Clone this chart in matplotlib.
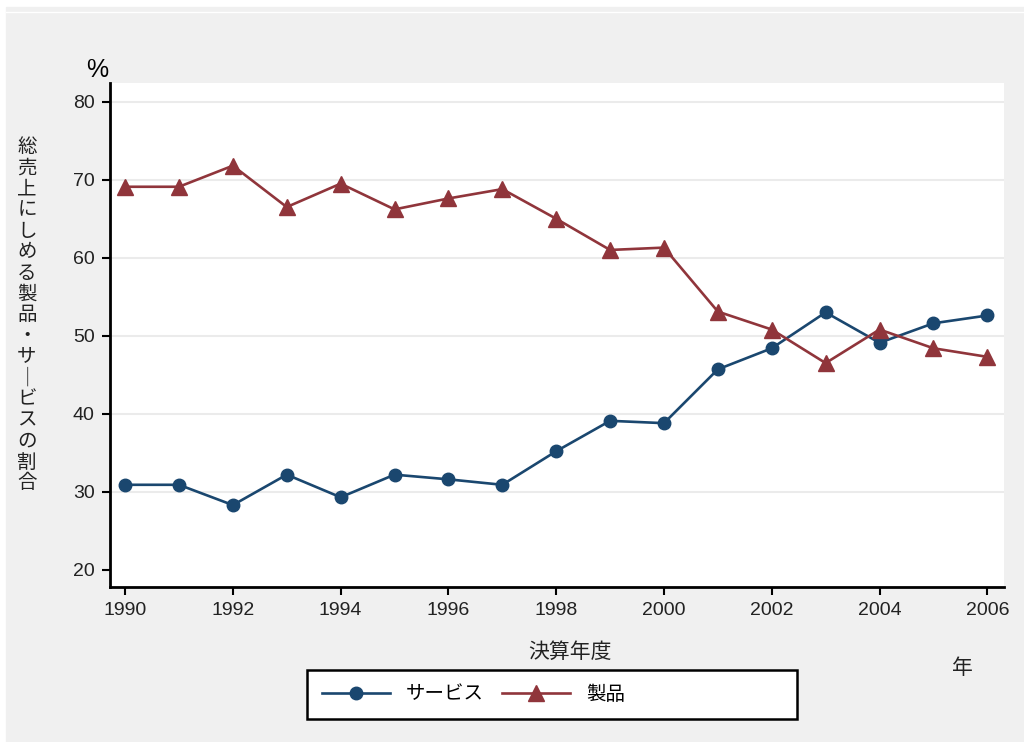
import matplotlib
matplotlib.use("Agg")
from matplotlib import pyplot as plt

plt.rcParams["font.family"] = ["Liberation Sans", "Noto Sans CJK JP", "DejaVu Sans"]

# data
years = list(range(1990, 2007))
products = [69.1, 69.1, 71.8, 66.5, 69.5, 66.2, 67.6, 68.8, 65.0, 61.0,
            61.3, 53.1, 50.8, 46.5, 50.8, 48.4, 47.3]
services = [30.9, 30.9, 28.3, 32.2, 29.3, 32.2, 31.6, 30.9, 35.2, 39.1,
            38.8, 45.7, 48.4, 53.0, 49.1, 51.6, 52.6]
x_ticks = list(range(1990, 2007, 2))
y_ticks = [20, 30, 40, 50, 60, 70, 80]

NAVY = "#1a476f"
MAROON = "#90353b"
BG = "#f0f0f0"
JP = ["Noto Sans CJK JP", "DejaVu Sans"]

W, H = 1024, 742
fig = plt.figure(figsize=(W / 100, H / 100), dpi=100)
fig.patch.set_facecolor("white")
# grey graph region
fig.patches.append(plt.Rectangle((6 / W, 0), 1, 1 - 7 / H,
                                 transform=fig.transFigure, color=BG, zorder=-2))
fig.lines.append(plt.Line2D([6 / W, 1], [1 - 12 / H] * 2,
                            transform=fig.transFigure, color="white", lw=1, zorder=-1))

ax = fig.add_axes([110 / W, 1 - 587 / H, 894 / W, 504 / H])
ax.set_facecolor("white")

ax.plot(years, services, color=NAVY, lw=1.9, marker="o", ms=9, label="サービス", zorder=3)
ax.plot(years, products, color=MAROON, lw=1.9, marker="^", ms=11.5, label="製品", zorder=3)

ax.set_xlim(1989.72, 2006.31)
ax.set_ylim(17.8, 82.4)
ax.set_xticks(x_ticks)
ax.set_yticks(y_ticks)
ax.tick_params(axis="both", labelsize=14, width=1.5, length=6, color="black",
               labelcolor="#222222")
ax.tick_params(axis="x", pad=5)
ax.tick_params(axis="y", pad=5)
for v in y_ticks[1:]:
    ax.axhline(v, color="#ebebeb", lw=1.5, zorder=1)

for s in ["top", "right"]:
    ax.spines[s].set_visible(False)
for s in ["left", "bottom"]:
    ax.spines[s].set_linewidth(2)

fig.text(570 / W, 1 - 652 / H, "決算年度", ha="center", va="center",
         fontsize=15, family=JP, color="#222222")
fig.text(962 / W, 1 - 668 / H, "年", ha="center", va="center",
         fontsize=15, family=JP, color="#222222")
fig.text(97 / W, 1 - 70 / H, "%", ha="center", va="center", fontsize=18)

ylabel = "総売上にしめる製品・サービスの割合".replace("ー", "｜")
fig.text(27 / W, 1 - 315 / H, "\n".join(ylabel), ha="center", va="center",
         fontsize=14, linespacing=1.0, family=JP, color="#222222")

# legend box (fixed width, entries on the left)
fig.patches.append(plt.Rectangle((307 / W, 1 - 719 / H), 490 / W, 49 / H,
                                 transform=fig.transFigure, facecolor="white",
                                 edgecolor="black", lw=1.8, zorder=2))
leg = fig.legend(loc="center left", bbox_to_anchor=(304 / W, 1 - 694 / H),
                 ncol=2, frameon=False, handlelength=3.5, columnspacing=0.9,
                 handletextpad=0.85, prop={"family": JP, "size": 14})
leg.set_zorder(3)

fig.savefig("out.png", dpi=100, facecolor=fig.get_facecolor())
